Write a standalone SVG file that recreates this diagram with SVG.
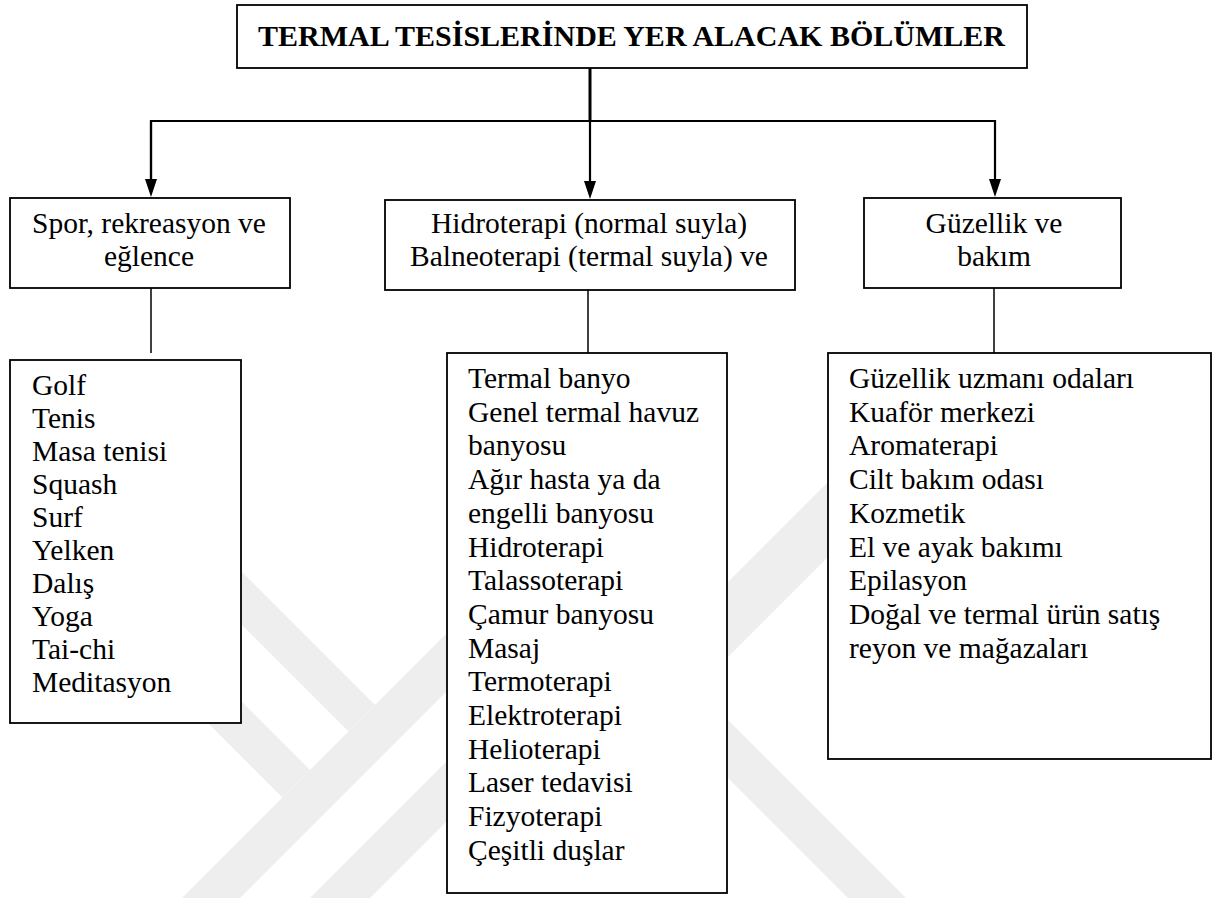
<svg xmlns="http://www.w3.org/2000/svg" width="1213" height="898" viewBox="0 0 1213 898">
  <style>
    .box { fill: #ffffff; stroke: #000000; stroke-width: 1.8; }
    .lbl { font-family: "Liberation Serif", "Times New Roman", serif; font-size: 29.5px; fill: #000000; }
    .mid { text-anchor: middle; }
    .title { font-family: "Liberation Serif", "Times New Roman", serif; font-size: 30px; font-weight: bold; fill: #000000; }
    .wire { fill: none; stroke: #000000; stroke-width: 2.2; }
    .stem { fill: none; stroke: #000000; stroke-width: 3; }
    .stub { fill: none; stroke: #000000; stroke-width: 1.5; }
    .mark { fill: #eeeeee; stroke: none; }
  </style>
  <defs>
    <marker id="arrow" viewBox="0 0 18 12" refX="11" refY="6" markerWidth="18" markerHeight="12" markerUnits="userSpaceOnUse" orient="auto">
      <path d="M0,0 L18,6 L0,12 Z" fill="#000000"/>
    </marker>
  </defs>

  <rect width="1213" height="898" fill="#ffffff"/>

  <!-- faint background emblem -->
  <g id="emblem">
    <polygon class="mark" points="100,430 375,705 348.5,731.5 100,483"/>
    <polygon class="mark" points="100,560 310,770 282.5,797.5 100,615"/>
    <polygon class="mark" points="182,898 600,480 600,538 240,898"/>
    <polygon class="mark" points="310,898 600,608 600,668 370,898"/>
    <polygon class="mark" points="650,660 900,410 900,485 650,735"/>
    <polygon class="mark" points="650,642 906,898 848,898 650,700"/>
  </g>

  <!-- connectors -->
  <g id="connectors">
    <line class="stem" x1="590" y1="68" x2="590" y2="121"/>
    <polyline class="wire" points="151,190 151,121 995,121 995,190" marker-end="url(#arrow)"/>
    <line class="wire" x1="151" y1="121" x2="151" y2="190" marker-end="url(#arrow)"/>
    <line class="wire" x1="590" y1="121" x2="590" y2="192" marker-end="url(#arrow)"/>
    <line class="stub" x1="151" y1="288" x2="151" y2="353"/>
    <line class="stub" x1="588" y1="290" x2="588" y2="353"/>
    <line class="stub" x1="994" y1="288" x2="994" y2="353"/>
  </g>

  <!-- top heading -->
  <g id="node-root">
    <rect class="box" x="237" y="5" width="790" height="63"/>
    <text class="title" x="258" y="46" textLength="747" lengthAdjust="spacingAndGlyphs">TERMAL TESİSLERİNDE YER ALACAK BÖLÜMLER</text>
  </g>

  <!-- category boxes -->
  <g id="node-sport">
    <rect class="box" x="10" y="198" width="280" height="90"/>
    <text class="lbl mid" x="149" y="233">Spor, rekreasyon ve</text>
    <text class="lbl mid" x="149" y="266">eğlence</text>
  </g>
  <g id="node-therapy">
    <rect class="box" x="385" y="200" width="410" height="90"/>
    <text class="lbl mid" x="589" y="233">Hidroterapi (normal suyla)</text>
    <text class="lbl mid" x="589" y="266">Balneoterapi (termal suyla) ve</text>
  </g>
  <g id="node-beauty">
    <rect class="box" x="864" y="198" width="257" height="90"/>
    <text class="lbl mid" x="994" y="233">Güzellik ve</text>
    <text class="lbl mid" x="994" y="266">bakım</text>
  </g>

  <!-- item lists -->
  <g id="list-sport">
    <rect class="box" x="10" y="360" width="231" height="363"/>
    <text class="lbl" x="32" y="395">Golf</text>
    <text class="lbl" x="32" y="428">Tenis</text>
    <text class="lbl" x="32" y="461">Masa tenisi</text>
    <text class="lbl" x="32" y="494">Squash</text>
    <text class="lbl" x="32" y="527">Surf</text>
    <text class="lbl" x="32" y="560">Yelken</text>
    <text class="lbl" x="32" y="593">Dalış</text>
    <text class="lbl" x="32" y="626">Yoga</text>
    <text class="lbl" x="32" y="659">Tai-chi</text>
    <text class="lbl" x="32" y="692">Meditasyon</text>
  </g>
  <g id="list-therapy">
    <rect class="box" x="447" y="353" width="280" height="540"/>
    <text class="lbl" x="468" y="388">Termal banyo</text>
    <text class="lbl" x="468" y="421.7">Genel termal havuz</text>
    <text class="lbl" x="468" y="455.4">banyosu</text>
    <text class="lbl" x="468" y="489.1">Ağır hasta ya da</text>
    <text class="lbl" x="468" y="522.8">engelli banyosu</text>
    <text class="lbl" x="468" y="556.5">Hidroterapi</text>
    <text class="lbl" x="468" y="590.2">Talassoterapi</text>
    <text class="lbl" x="468" y="623.9">Çamur banyosu</text>
    <text class="lbl" x="468" y="657.6">Masaj</text>
    <text class="lbl" x="468" y="691.3">Termoterapi</text>
    <text class="lbl" x="468" y="725">Elektroterapi</text>
    <text class="lbl" x="468" y="758.7">Helioterapi</text>
    <text class="lbl" x="468" y="792.4">Laser tedavisi</text>
    <text class="lbl" x="468" y="826.1">Fizyoterapi</text>
    <text class="lbl" x="468" y="859.8">Çeşitli duşlar</text>
  </g>
  <g id="list-beauty">
    <rect class="box" x="828" y="353" width="383" height="406"/>
    <text class="lbl" x="849" y="388">Güzellik uzmanı odaları</text>
    <text class="lbl" x="849" y="421.7">Kuaför merkezi</text>
    <text class="lbl" x="849" y="455.4">Aromaterapi</text>
    <text class="lbl" x="849" y="489.1">Cilt bakım odası</text>
    <text class="lbl" x="849" y="522.8">Kozmetik</text>
    <text class="lbl" x="849" y="556.5">El ve ayak bakımı</text>
    <text class="lbl" x="849" y="590.2">Epilasyon</text>
    <text class="lbl" x="849" y="623.9">Doğal ve termal ürün satış</text>
    <text class="lbl" x="849" y="657.6">reyon ve mağazaları</text>
  </g>
</svg>
